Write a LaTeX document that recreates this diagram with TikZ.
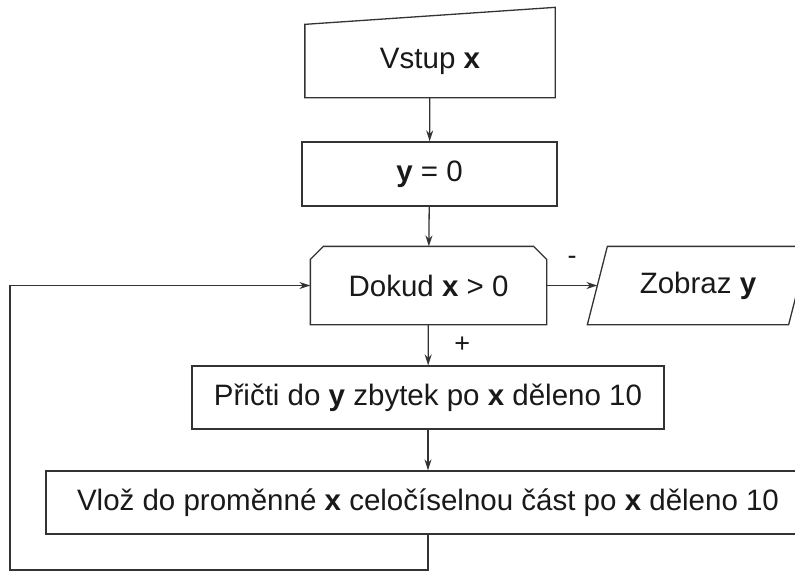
\documentclass[tikz,border=0pt]{standalone}
\usepackage{fontspec}
\setmainfont{Liberation Sans}
\usepackage{tikz}
\usetikzlibrary{arrows.meta}
\usetikzlibrary{positioning}

\begin{document}
\begin{tikzpicture}[x=1pt,y=-1pt,line width=1.3pt,draw=black!80,
  every node/.style={inner sep=0pt,text=black!90,font=\fontsize{29.5}{34}\selectfont},
  blok/.style={minimum width=#1,minimum height=63pt},
  znak/.style={font=\fontsize{27}{30}\selectfont},
  sipka/.style={-{Stealth[length=11pt,width=7pt]}}]

  \useasboundingbox (0,0) rectangle (795,571);

  % vstup (rucni vstup)
  \node[minimum width=249pt,minimum height=72pt] (vstup) at (430,61) {Vstup \textbf{x}};
  \draw (vstup.south west) -- (vstup.north west) -- ([yshift=17pt]vstup.north east)
    -- (vstup.south east) -- cycle;

  % y = 0
  \node[draw,minimum width=255pt,minimum height=64pt] (nula) at (429.5,174) {\textbf{y} = 0};

  % cyklus
  \node[minimum width=235pt,minimum height=77pt] (cyklus) at (428.5,285.5) {Dokud \textbf{x} > 0};
  \draw (cyklus.south west) -- ([yshift=-13pt]cyklus.north west)
    -- ([xshift=13pt]cyklus.north west) -- ([xshift=-13pt]cyklus.north east)
    -- ([yshift=-13pt]cyklus.north east) -- (cyklus.south east) -- cycle;

  % vystup
  \node[minimum width=200pt,minimum height=77pt] (vystup) at (698,285.5) {Zobraz \textbf{y}};
  \draw ([xshift=-10pt]vystup.south west) -- ([xshift=10pt]vystup.north west)
    -- ([xshift=10pt]vystup.north east) -- ([xshift=-10pt]vystup.south east) -- cycle;

  % telo cyklu
  \node[draw,blok=472pt] (pricti) at (428,397.5) {P\v{r}i\v{c}ti do \textbf{y} zbytek po \textbf{x} d\v{e}leno 10};
  \node[draw,blok=764pt] (vloz) at (428,502.5) {Vlo\v{z} do prom\v{e}nn\'e \textbf{x} celo\v{c}\'iselnou \v{c}\'ast po \textbf{x} d\v{e}leno 10};

  \coordinate (dole) at (10,570);

  \draw[sipka] (vstup) -- (nula);
  \draw[sipka] (nula) -- (cyklus);
  \draw[sipka] (cyklus) -- node[znak,pos=.5,xshift=34pt] {+} (pricti);
  \draw[sipka] (cyklus) -- node[znak,above=20pt] {-} (vystup.west);
  \draw[sipka] (pricti) -- (vloz);
  \draw[sipka] (vloz.south) |- (dole) |- (cyklus.west);

\end{tikzpicture}
\end{document}
